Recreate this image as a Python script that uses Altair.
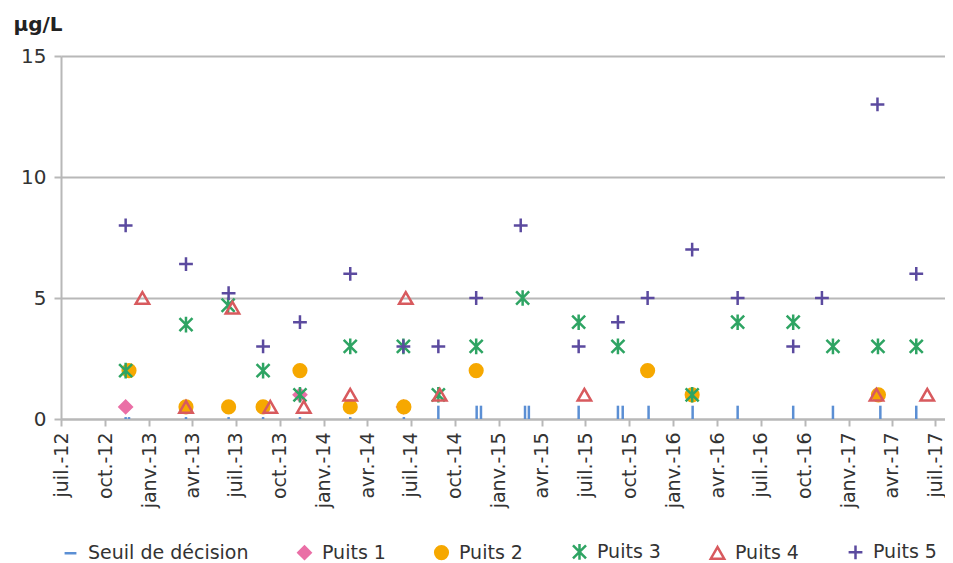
import altair as alt
import pandas as pd

# ---------------- data ----------------
series_names = ["Seuil de décision", "Puits 1", "Puits 2", "Puits 3", "Puits 4", "Puits 5"]

seuil_dates = ["2012-11-13", "2012-11-20", "2013-03-19", "2013-06-16", "2013-08-27",
               "2013-11-12", "2014-02-25", "2014-06-17",
               "2014-08-28", "2014-11-16", "2014-11-25", "2015-02-25", "2015-03-05",
               "2015-06-17", "2015-09-07", "2015-09-17", "2015-11-10", "2016-02-10",
               "2016-05-14", "2016-09-07", "2016-11-29", "2017-03-08", "2017-05-22"]
seuil_values = [0.08, 0.08, 0.08, 0.08, 0.08, 0.08, 0.08, 0.08,
                0.55, 0.55, 0.55, 0.55, 0.55, 0.55, 0.55, 0.55, 0.55, 0.55,
                0.55, 0.55, 0.55, 0.55, 0.55]

p1_dates = ["2012-11-13", "2013-11-12", "2014-06-16"]
p1_values = [0.5, 1.0, 0.5]

p2_dates = ["2012-11-20", "2013-03-19", "2013-06-16", "2013-08-27", "2013-11-12",
            "2014-02-25", "2014-06-17", "2014-11-15", "2015-11-08", "2016-02-09",
            "2017-03-04"]
p2_values = [2, 0.5, 0.5, 0.5, 2, 0.5, 0.5, 2, 2, 1, 1]

p3_dates = ["2012-11-13", "2013-03-19", "2013-06-15", "2013-08-27", "2013-11-12",
            "2014-02-25", "2014-06-16", "2014-08-28", "2014-11-15", "2015-02-20",
            "2015-06-17", "2015-09-07", "2016-02-09", "2016-05-14", "2016-09-07",
            "2016-11-29", "2017-03-03", "2017-05-22"]
p3_values = [2, 3.9, 4.7, 2, 1, 3, 3, 1, 3, 5, 4, 3, 1, 4, 4, 3, 3, 3]

p4_dates = ["2012-12-18", "2013-03-19", "2013-06-24", "2013-09-11", "2013-11-20",
            "2014-02-25", "2014-06-21", "2014-08-31", "2015-06-29", "2017-02-28",
            "2017-06-14"]
p4_values = [5, 0.5, 4.6, 0.5, 0.5, 1, 5, 1, 1, 1, 1]

p5_dates = ["2012-11-13", "2013-03-19", "2013-06-16", "2013-08-27", "2013-11-12",
            "2014-02-25", "2014-06-16", "2014-08-28", "2014-11-15", "2015-02-16",
            "2015-06-17", "2015-09-07", "2015-11-08", "2016-02-09", "2016-05-14",
            "2016-09-07", "2016-11-06", "2017-03-02", "2017-05-22"]
p5_values = [8, 6.4, 5.2, 3, 4, 6, 3, 3, 5, 8, 3, 4, 5, 7, 5, 3, 5, 13, 6]

y_ticks = [0, 5, 10, 15]
month_labels = ["janv.", "févr.", "mars", "avr.", "mai", "juin",
                "juil.", "août", "sept.", "oct.", "nov.", "déc."]

# ---------------- styles ----------------
colors = ["#5b8fd4", "#ea6fa6", "#f6a800", "#2ea463", "#d85a5e", "#5b4a9f"]
fills = ["transparent", "#ea6fa6", "#f6a800", "transparent", "transparent", "transparent"]
asterisk = "M-1,-1L1,1M-1,1L1,-1M0,-1.2L0,1.2"
plus = "M-1,0L1,0M0,-1L0,1"
shapes = ["stroke", "diamond", "circle", asterisk, "triangle-up", plus]
sizes = [140, 190, 200, 190, 250, 190]
FONT = "DejaVu Sans"
GRID = "#b8b8b8"

# ---------------- tables ----------------
rows = []
for name, ds, vs in [("Puits 1", p1_dates, p1_values), ("Puits 2", p2_dates, p2_values),
                     ("Puits 3", p3_dates, p3_values), ("Puits 4", p4_dates, p4_values),
                     ("Puits 5", p5_dates, p5_values)]:
    for d, v in zip(ds, vs):
        rows.append({"series": name, "date": d, "value": v})
df_points = pd.DataFrame(rows)
df_seuil = pd.DataFrame({"series": series_names[0], "date": seuil_dates, "value": seuil_values})

# quarterly ticks
tick_values = []
for y in range(2012, 2018):
    for m in (1, 4, 7, 10):
        if (y, m) >= (2012, 7) and (y, m) <= (2017, 7):
            tick_values.append(alt.DateTime(year=y, month=m, date=1, utc=True))

label_expr = ("[" + ",".join("'%s'" % m for m in month_labels) + "][utcmonth(datum.value)]"
              " + '-' + utcFormat(datum.value, '%y')")

x_scale = alt.Scale(type="utc", nice=False,
                    domain=[alt.DateTime(year=2012, month=7, date=1, utc=True),
                            alt.DateTime(year=2017, month=7, date=21, utc=True)])
x_axis = alt.Axis(values=tick_values, labelExpr=label_expr, labelAngle=270,
                  labelAlign="right", labelBaseline="middle", labelPadding=6,
                  labelFontSize=19, grid=False, tickSize=7, title=None)
y_scale = alt.Scale(domain=[0, 15], nice=False, zero=True)
y_axis = alt.Axis(values=y_ticks, grid=True, tickSize=7, labelPadding=8, labelFontSize=20,
                  title="µg/L", titleAngle=0, titleAlign="left",
                  titleBaseline="alphabetic", titleX=-48, titleY=-26,
                  titleFontSize=20, titleFontWeight="bold", titleColor="#222222")

legend = alt.Legend(title=None, orient="none", legendX=0, legendY=486,
                    direction="horizontal", columnPadding=44, labelOffset=8,
                    labelFontSize=19, labelFont=FONT, labelColor="#333333",
                    padding=0, symbolOpacity=1, symbolStrokeWidth=2.5, labelLimit=400)

rules = alt.Chart(df_seuil).mark_rule(color=colors[0], strokeWidth=2.5).encode(
    x=alt.X("date:T", scale=x_scale, axis=x_axis),
    y=alt.Y("value:Q", scale=y_scale, axis=y_axis),
    y2=alt.datum(0),
)

points = alt.Chart(df_points).mark_point(filled=False, opacity=1, strokeWidth=2.5).encode(
    x=alt.X("date:T", scale=x_scale, axis=x_axis),
    y=alt.Y("value:Q", scale=y_scale, axis=y_axis),
    shape=alt.Shape("series:N", scale=alt.Scale(domain=series_names, range=shapes), legend=legend),
    stroke=alt.Stroke("series:N", scale=alt.Scale(domain=series_names, range=colors), legend=legend),
    fill=alt.Fill("series:N", scale=alt.Scale(domain=series_names, range=fills), legend=legend),
    size=alt.Size("series:N", scale=alt.Scale(domain=series_names, range=sizes), legend=legend),
)

chart = alt.layer(rules, points).properties(
    width=884, height=363,
    autosize=alt.AutoSizeParams(type="none"),
    padding={"left": 53, "top": 48, "right": 0, "bottom": 144},
).configure_view(stroke=None).configure_axis(
    labelFont=FONT, labelColor="#333333",
    titleFont=FONT,
    gridColor=GRID, gridWidth=2, domainColor=GRID, domainWidth=2,
    tickColor=GRID, tickWidth=2,
)

chart.save("out.html", embed_options={"renderer": "svg", "actions": False})
